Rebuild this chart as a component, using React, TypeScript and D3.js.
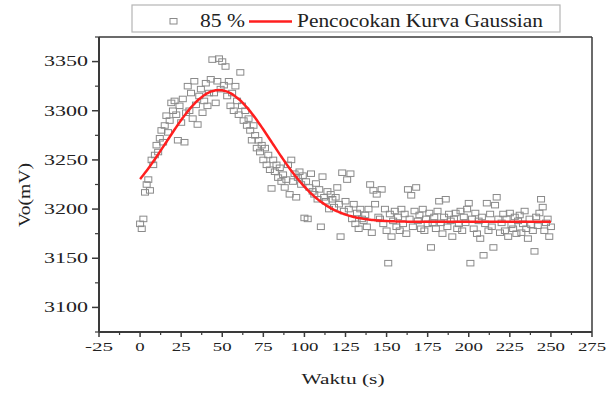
import React from "react";
import * as d3 from "d3";

// ---- Data ----
const timeStart = 0; // seconds, one sample per second
const voltage: number[] = [
  3185, 3180, 3190, 3217, 3225, 3230, 3219, 3250, 3245, 3255,
  3265, 3258, 3272, 3280, 3268, 3285, 3295, 3278, 3290, 3308,
  3300, 3310, 3296, 3270, 3305, 3288, 3312, 3268, 3298, 3325,
  3300, 3318, 3292, 3330, 3306, 3286, 3315, 3322, 3298, 3310,
  3328, 3305, 3318, 3332, 3352, 3318, 3308, 3330, 3353, 3322,
  3350, 3326, 3345, 3315, 3330, 3305, 3318, 3300, 3325, 3310,
  3296, 3339, 3305, 3290, 3300, 3285, 3292, 3280, 3270, 3285,
  3275, 3262, 3270, 3258, 3265, 3250, 3262, 3245, 3255, 3240,
  3221, 3250, 3238, 3245, 3232, 3242, 3228, 3235, 3222, 3230,
  3245, 3215, 3250, 3228, 3236, 3212, 3232, 3238, 3225, 3234,
  3191, 3228, 3190, 3222, 3236, 3218, 3215, 3226, 3210, 3220,
  3182, 3233, 3212, 3208, 3218, 3200, 3215, 3210, 3202, 3212,
  3222, 3205, 3172, 3237, 3198, 3208, 3230, 3200, 3236, 3190,
  3205, 3185, 3196, 3180, 3200, 3190, 3188, 3194, 3182, 3200,
  3225, 3176, 3219, 3205, 3215, 3192, 3190, 3220, 3185, 3200,
  3178, 3145, 3195, 3172, 3188, 3198, 3182, 3192, 3178, 3200,
  3185, 3195, 3175, 3220, 3190, 3214, 3182, 3198, 3222, 3188,
  3194, 3180, 3200, 3178, 3190, 3185, 3196, 3161, 3186, 3192,
  3180, 3198, 3208, 3186, 3175, 3192, 3210, 3182, 3195, 3188,
  3172, 3190, 3196, 3180, 3185, 3198, 3178, 3192, 3186, 3200,
  3206, 3145, 3190, 3180, 3196, 3175, 3188, 3170, 3192, 3153,
  3185, 3206, 3178, 3195, 3182, 3161, 3204, 3212, 3190, 3176,
  3186, 3195, 3178, 3190, 3172, 3196, 3184, 3180, 3192, 3175,
  3188, 3194, 3176, 3185, 3198, 3180, 3170, 3190, 3184, 3178,
  3157, 3192, 3183, 3196, 3210, 3202, 3178, 3186, 3190, 3172,
  3182,
];

// Gaussian fit parameters
const fitY0 = 3187;
const fitA = 134;
const fitXc = 48;
const fitW = 32;
const fitRange = [0, 250];

const xTicks = [-25, 0, 25, 50, 75, 100, 125, 150, 175, 200, 225, 250, 275];
const yTicks = [3100, 3150, 3200, 3250, 3300, 3350];

const legendMarkerLabel = "85 %";
const legendLineLabel = "Pencocokan Kurva Gaussian";
const xTitle = "Waktu (s)";
const yTitle = "Vo(mV)";

const W = 609;
const H = 393;
const L = 99, R = 592, T = 37, B = 332;
const FONT = "'Liberation Serif', 'Times New Roman', serif";
const AXIS = "#3a3a3a";

export default function App() {
  const x = d3.scaleLinear().domain([-25, 275]).range([L, R]);
  const y = d3.scaleLinear().domain([3075, 3375]).range([B, T]);

  const points = voltage.map((v, i) => ({ t: timeStart + i, v }));

  const fitPts: [number, number][] = [];
  for (let t = fitRange[0]; t <= fitRange[1]; t += 1) {
    fitPts.push([t, fitY0 + fitA * Math.exp(-((t - fitXc) ** 2) / (2 * fitW * fitW))]);
  }
  const line = d3
    .line<[number, number]>()
    .x((d) => x(d[0]))
    .y((d) => y(d[1]))
    .curve(d3.curveMonotoneX);

  const xMinor = d3.range(-12.5, 275, 25);
  const yMinor = d3.range(3075, 3376, 50);

  return (
    <svg
      width={W}
      height={H}
      style={{ position: "absolute", left: 0, top: 0, background: "#fff" }}
      fontFamily={FONT}
    >
      {/* legend */}
      <rect x={132} y={5} width={428} height={27} fill="#fff" stroke="#b5b5b5" strokeWidth={1.2} />
      <rect x={170} y={18.5} width={7} height={5.5} fill="none" stroke="#8a8a8a" strokeWidth={1} />
      <text x={200} y={27} fontSize={18} fill="#222" textLength={45} lengthAdjust="spacingAndGlyphs">
        {legendMarkerLabel}
      </text>
      <line x1={249} x2={292} y1={21.5} y2={21.5} stroke="#ff1f1f" strokeWidth={2.5} />
      <text x={297} y={27} fontSize={18} fill="#222" textLength={246} lengthAdjust="spacingAndGlyphs">
        {legendLineLabel}
      </text>

      {/* frame */}
      <line x1={L} x2={R} y1={T} y2={T} stroke={AXIS} strokeWidth={1.5} />
      <line x1={R} x2={R} y1={T} y2={B} stroke={AXIS} strokeWidth={1.5} />

      {/* data */}
      <g>
        {points.map((p, i) => (
          <rect
            key={i}
            x={x(p.t) - 3.5}
            y={y(p.v) - 2.75}
            width={7}
            height={5.5}
            fill="none"
            stroke="#8a8a8a"
            strokeWidth={1}
          />
        ))}
      </g>
      <path d={line(fitPts) || ""} fill="none" stroke="#ff1f1f" strokeWidth={2.5} />

      {/* axes */}
      <line x1={L} x2={L} y1={T} y2={B} stroke={AXIS} strokeWidth={2} />
      <line x1={L} x2={R} y1={B} y2={B} stroke={AXIS} strokeWidth={2} />

      {xTicks.map((t) => (
        <g key={"xt" + t}>
          <line x1={x(t)} x2={x(t)} y1={B} y2={B + 5} stroke={AXIS} strokeWidth={1.5} />
          <text
            x={x(t)}
            y={351}
            fontSize={13}
            textAnchor="middle"
            fill="#222"
            textLength={String(t).length * 9.4}
            lengthAdjust="spacingAndGlyphs"
          >
            {t}
          </text>
        </g>
      ))}
      {xMinor.map((t) => (
        <line key={"xm" + t} x1={x(t)} x2={x(t)} y1={B} y2={B + 3} stroke={AXIS} strokeWidth={1.2} />
      ))}

      {yTicks.map((t) => (
        <g key={"yt" + t}>
          <line x1={L - 7} x2={L} y1={y(t)} y2={y(t)} stroke={AXIS} strokeWidth={1.5} />
          <text
            x={88}
            y={y(t) + 4.8}
            fontSize={14}
            textAnchor="end"
            fill="#222"
            textLength={44}
            lengthAdjust="spacingAndGlyphs"
          >
            {t}
          </text>
        </g>
      ))}
      {yMinor.map((t) => (
        <line key={"ym" + t} x1={L - 4} x2={L} y1={y(t)} y2={y(t)} stroke={AXIS} strokeWidth={1.2} />
      ))}

      {/* titles */}
      <text
        x={343}
        y={384}
        fontSize={15}
        textAnchor="middle"
        fill="#222"
        textLength={83}
        lengthAdjust="spacingAndGlyphs"
      >
        {xTitle}
      </text>
      <text
        transform={`translate(30,195) rotate(-90)`}
        fontSize={17}
        textAnchor="middle"
        fill="#222"
        textLength={64}
        lengthAdjust="spacingAndGlyphs"
      >
        {yTitle}
      </text>
    </svg>
  );
}
